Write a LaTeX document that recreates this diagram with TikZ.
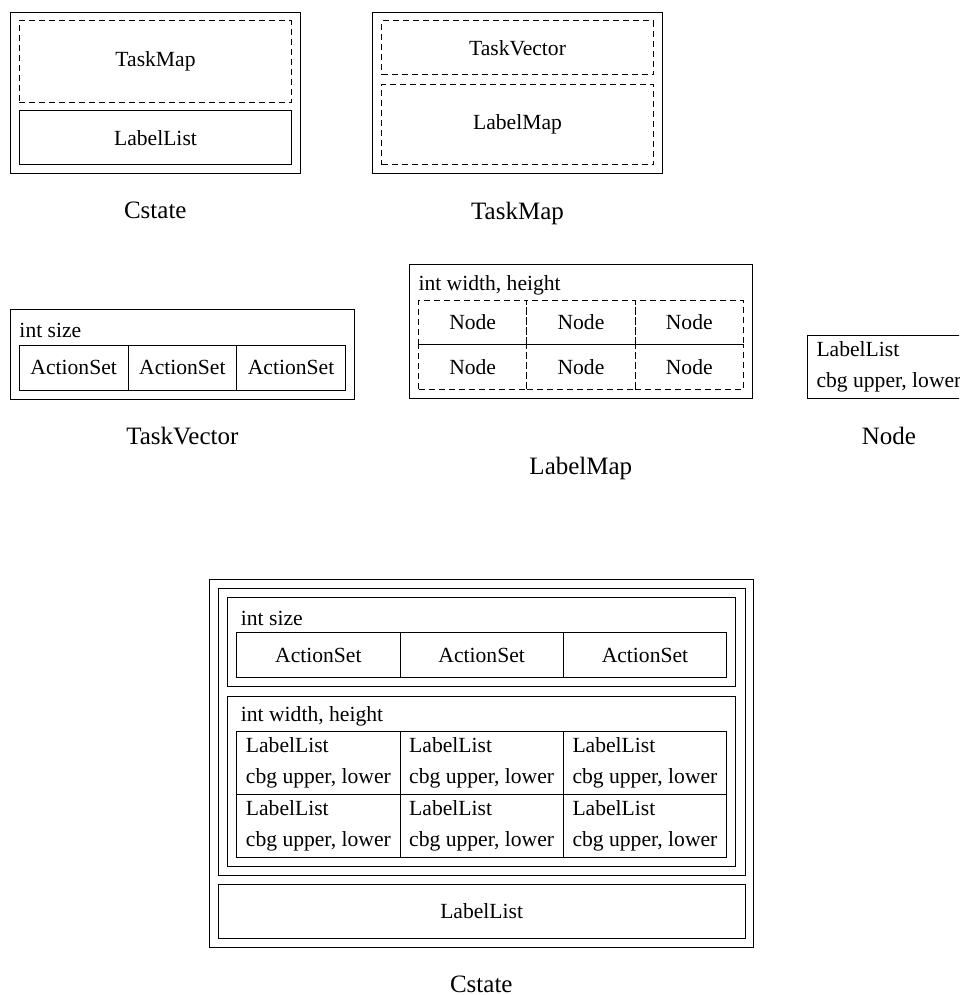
\documentclass[tikz,border=0pt]{standalone}
\usepackage{fontspec}
\setmainfont{Liberation Serif}
\usetikzlibrary{positioning}
\tikzset{
  frm/.style={draw,line width=1pt,inner sep=0pt,outer sep=0pt,anchor=north west,font=\fontsize{21.6}{26}\selectfont},
  dfr/.style={frm,dash pattern=on 6pt off 4pt},
  cel/.style={draw,line width=1pt,inner sep=0pt,outer sep=0pt,align=left,minimum width=163.3pt,minimum height=63pt,font=\fontsize{21.6}{31}\selectfont},
  lbl/.style={inner sep=0pt,anchor=west,font=\fontsize{21.6}{26}\selectfont},
  ttl/.style={inner sep=0pt,font=\fontsize{25}{30}\selectfont},
}
\begin{document}
\begin{tikzpicture}[x=1pt,y=-1pt]
  \useasboundingbox (0,0) rectangle (959,995);
  \clip (0,0) rectangle (959,995);
  % Cstate
  \node[frm,minimum width=290pt,minimum height=161.7pt] (cs1) at (10.3,12.3) {};
  \node[dfr,minimum width=272.4pt,minimum height=81.3pt] (tm1) at (19.3,21) {TaskMap};
  \node[frm,minimum width=272.4pt,minimum height=54pt] (ll1) at (19.3,111) {LabelList};
  \node[ttl,below=28pt of cs1] (c1) {Cstate};
  % TaskMap
  \node[frm,minimum width=289.6pt,minimum height=161.7pt] (tm2) at (372.7,12.3) {};
  \node[dfr,minimum width=271.6pt,minimum height=54pt] (tv2) at (381.7,21) {TaskVector};
  \node[dfr,minimum width=271.6pt,minimum height=80.7pt] (lm2) at (381.7,84.3) {LabelMap};
  \node[ttl,below=28pt of tm2] (c2) {TaskMap};
  % TaskVector
  \node[frm,minimum width=344pt,minimum height=90pt] (tv3) at (10.3,309) {};
  \node[lbl] (sz3) at (19.3,330) {int size};
  \node[frm,minimum width=108.7pt,minimum height=45pt] (as31) at (19.3,345) {ActionSet};
  \node[frm,minimum width=108.7pt,minimum height=45pt,right=0pt of as31] (as32) {ActionSet};
  \node[frm,minimum width=108.7pt,minimum height=45pt,right=0pt of as32] (as33) {ActionSet};
  \node[ttl,below=28pt of tv3] (c3) {TaskVector};
  % LabelMap
  \node[frm,minimum width=343.7pt,minimum height=134.5pt] (lm4) at (409,264) {};
  \node[lbl] (wh4) at (418.3,285) {int width, height};
  \node[dfr,minimum width=108.3pt,minimum height=44.7pt] (n11) at (418.5,300) {Node};
  \node[dfr,minimum width=108.3pt,minimum height=44.7pt,right=0pt of n11] (n12) {Node};
  \node[dfr,minimum width=108.3pt,minimum height=44.7pt,right=0pt of n12] (n13) {Node};
  \node[dfr,minimum width=108.3pt,minimum height=44.7pt,below=0pt of n11] (n21) {Node};
  \node[dfr,minimum width=108.3pt,minimum height=44.7pt,right=0pt of n21] (n22) {Node};
  \node[dfr,minimum width=108.3pt,minimum height=44.7pt,right=0pt of n22] (n23) {Node};
  \node[ttl,below=58pt of lm4] (c4) {LabelMap};
  % Node
  \node[cel,anchor=north west] (nd5) at (807.3,335.7) {LabelList\\cbg upper, lower};
  \node[ttl,below=28pt of nd5] (c5) {Node};
  % Cstate, all expanded
  \node[frm,minimum width=544pt,minimum height=368.3pt] (cs6) at (209.3,579) {};
  \node[frm,minimum width=526.7pt,minimum height=287.4pt] (tm6) at (218.3,588.3) {};
  \node[frm,minimum width=507.7pt,minimum height=89.4pt] (tv6) at (227.3,597.3) {};
  \node[lbl] (sz6) at (240.7,618.3) {int size};
  \node[frm,minimum width=163.3pt,minimum height=45.4pt] (as61) at (236.7,632.3) {ActionSet};
  \node[frm,minimum width=163.3pt,minimum height=45.4pt,right=0pt of as61] (as62) {ActionSet};
  \node[frm,minimum width=163.3pt,minimum height=45.4pt,right=0pt of as62] (as63) {ActionSet};
  \node[frm,minimum width=507.7pt,minimum height=170.7pt] (lm6) at (227.3,696) {};
  \node[lbl] (wh6) at (240.7,716) {int width, height};
  \node[cel,anchor=north west] (g11) at (236.7,731.7) {LabelList\\cbg upper, lower};
  \node[cel,right=0pt of g11] (g12) {LabelList\\cbg upper, lower};
  \node[cel,right=0pt of g12] (g13) {LabelList\\cbg upper, lower};
  \node[cel,below=0pt of g11] (g21) {LabelList\\cbg upper, lower};
  \node[cel,right=0pt of g21] (g22) {LabelList\\cbg upper, lower};
  \node[cel,right=0pt of g22] (g23) {LabelList\\cbg upper, lower};
  \node[frm,minimum width=526.7pt,minimum height=54pt] (ll6) at (218.3,884.3) {LabelList};
  \node[ttl,below=28pt of cs6] (c6) {Cstate};
\end{tikzpicture}
\end{document}
